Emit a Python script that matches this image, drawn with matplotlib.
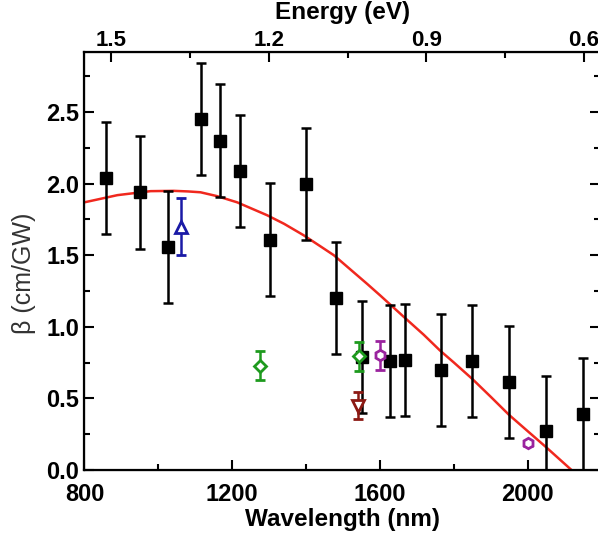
import numpy as np
import matplotlib.pyplot as plt
from matplotlib.ticker import MultipleLocator

plt.rcParams['font.family'] = ['Liberation Sans', 'DejaVu Sans']

# Z-scan data (black squares)
wl = [859, 951, 1026, 1116, 1166, 1222, 1301, 1400, 1480, 1551,
      1626, 1667, 1764, 1850, 1948, 2049, 2149]
beta = [2.04, 1.94, 1.56, 2.45, 2.30, 2.09, 1.61, 2.00, 1.20, 0.79,
        0.76, 0.77, 0.70, 0.76, 0.615, 0.27, 0.39]
beta_err = [0.39, 0.395, 0.39, 0.39, 0.395, 0.39, 0.395, 0.39, 0.39, 0.39,
            0.39, 0.39, 0.39, 0.39, 0.39, 0.39, 0.39]

# literature points
blue_wl, blue_beta, blue_err = [1062], [1.70], [0.20]
green_wl, green_beta, green_err = [1274, 1544], [0.73, 0.795], [0.10, 0.10]
red_wl, red_beta, red_err = [1541], [0.45], [0.095]
purple_wl, purple_beta, purple_err = [1600, 2001], [0.80, 0.186], [0.10, 0.02]

# theory curve
fit_wl = [800, 889, 979, 1042, 1080, 1114, 1159, 1213, 1294, 1340, 1393,
          1440, 1475, 1520, 1565, 1600, 1664, 1718, 1762, 1800, 1850,
          1900, 1949, 2000, 2049, 2118, 2200]
fit_beta = [1.87, 1.92, 1.948, 1.95, 1.946, 1.94, 1.913, 1.87, 1.78, 1.72, 1.64,
            1.56, 1.50, 1.40, 1.30, 1.22, 1.07, 0.945, 0.835, 0.75, 0.635,
            0.51, 0.385, 0.27, 0.16, 0.0, -0.19]

fig = plt.figure(figsize=(5.98, 5.41), dpi=100)
ax = fig.add_axes([0.1413, 0.1312, 0.862, 0.7727])

ax.plot(fit_wl, fit_beta, color='#f0281e', lw=1.8, zorder=2)

ax.errorbar(wl, beta, yerr=beta_err, fmt='s', color='black', ms=8,
            elinewidth=1.8, capsize=3.5, capthick=1.8, zorder=3)

def open_pts(x, y, e, marker, color, ms=7):
    ax.errorbar(x, y, yerr=e, fmt=marker, color=color, mfc='white', mec=color,
                mew=2, ms=ms, elinewidth=1.8, capsize=3.5, capthick=1.8, zorder=4)

open_pts(blue_wl, blue_beta, blue_err, '^', '#1a1aa6', ms=9)
open_pts(green_wl, green_beta, green_err, 'D', '#1e9a1e', ms=6.5)
open_pts(red_wl, red_beta, red_err, 'v', '#8c1a14', ms=8.5)
open_pts(purple_wl, purple_beta, purple_err, 'h', '#9a239e', ms=7.5)

ax.set_xlim(800, 2195)
ax.set_ylim(0, 2.92)
ax.xaxis.set_major_locator(MultipleLocator(400))
ax.xaxis.set_minor_locator(MultipleLocator(200))
ax.yaxis.set_major_locator(MultipleLocator(0.5))
ax.yaxis.set_minor_locator(MultipleLocator(0.25))
ax.yaxis.set_major_formatter(plt.FormatStrFormatter('%.1f'))
ax.tick_params(which='both', direction='in', right=True, width=1.5)
ax.tick_params(which='major', length=7, labelsize=17)
ax.tick_params(axis='y', which='major', pad=4)
ax.tick_params(axis='x', which='major', pad=9)
ax.tick_params(which='minor', length=4.5)
for lab in ax.get_xticklabels() + ax.get_yticklabels():
    lab.set_fontweight('bold')

ax.set_xlabel('Wavelength (nm)', fontsize=17.5, fontweight='bold')
ax.xaxis.set_label_coords(0.5, -0.092)
ax.set_ylabel('β (cm/GW)', fontsize=18, color='#333333')
ax.yaxis.set_label_coords(-0.095, 0.47)

for s in ax.spines.values():
    s.set_linewidth(1.6)

# top energy axis
ax2 = ax.twiny()
ax2.set_xlim(1.551, 0.5695)
ax2.xaxis.set_major_locator(MultipleLocator(0.3))
ax2.xaxis.set_minor_locator(MultipleLocator(0.15))
ax2.xaxis.set_major_formatter(plt.FormatStrFormatter('%.1f'))
ax2.tick_params(which='both', direction='in', width=1.5)
ax2.tick_params(which='major', length=7, labelsize=16, pad=0.5)
ax2.tick_params(which='minor', length=4.5)
for lab in ax2.get_xticklabels():
    lab.set_fontweight('bold')
ax2.set_xlabel('Energy (eV)', fontsize=17.5, fontweight='bold')
ax2.xaxis.set_label_coords(0.5, 1.078)

fig.savefig('out.png', dpi=100)
